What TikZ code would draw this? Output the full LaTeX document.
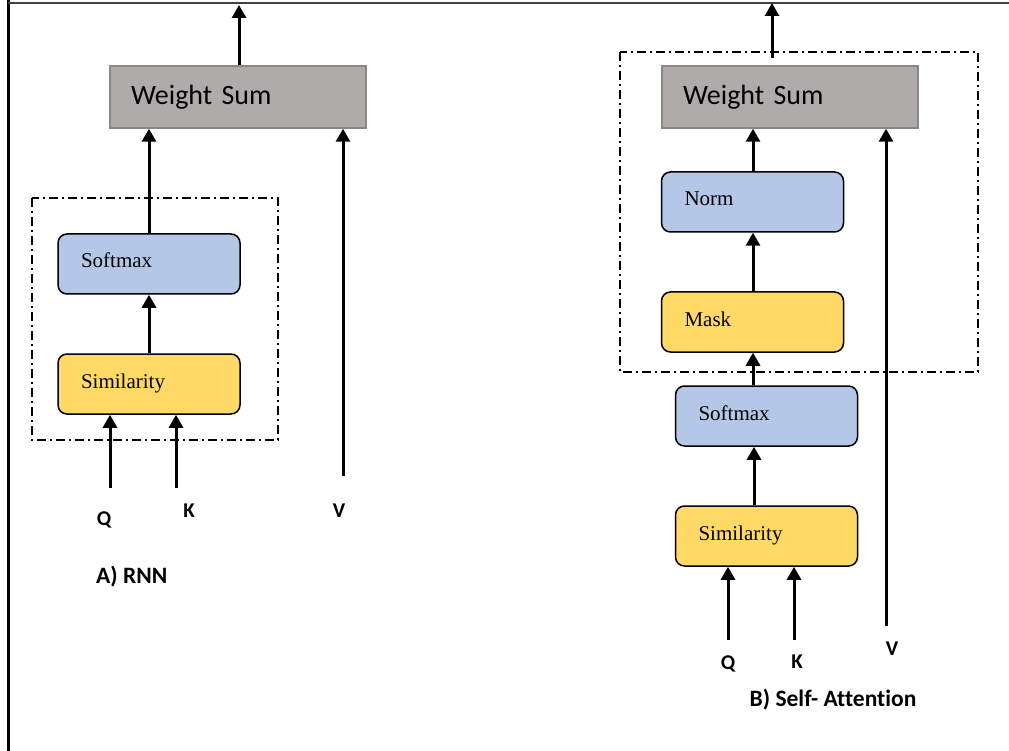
\documentclass[tikz,border=0pt]{standalone}
\usepackage{fontspec}
\setmainfont{Liberation Serif}
\newfontfamily\calib[Ligatures=NoCommon]{Carlito}
\usetikzlibrary{arrows.meta}
\definecolor{wsgray}{HTML}{AFABAB}
\definecolor{wsborder}{HTML}{8A8787}
\definecolor{boxblue}{HTML}{B4C7E7}
\definecolor{boxyellow}{HTML}{FFD966}
\tikzset{
  wsbox/.style={draw=wsborder, line width=1.5pt, fill=wsgray, minimum width=256pt, minimum height=62pt,
    text width=214pt, inner xsep=21pt, align=left, font=\calib\fontsize{28}{30}\selectfont},
  stepbox/.style={draw=black, line width=1.5pt, rounded corners=9pt, minimum width=182pt, minimum height=60pt,
    text width=136pt, inner xsep=23pt, align=left, text height=14pt, text depth=6pt,
    font=\fontsize{21}{23}\selectfont},
  bluebox/.style={stepbox, fill=boxblue},
  yellowbox/.style={stepbox, fill=boxyellow},
  conn/.style={line width=3pt, -{Triangle[length=13pt,width=14pt]}},
  groupbox/.style={draw=black, line width=1.5pt, dash pattern=on 9pt off 4pt on 2pt off 4pt},
  lbl/.style={font=\calib\bfseries\fontsize{21}{23}\selectfont, inner sep=0pt},
  caption/.style={font=\calib\bfseries\fontsize{23.5}{25}\selectfont, inner sep=0pt}
}
\begin{document}
\begin{tikzpicture}[x=1pt,y=-1pt]
\useasboundingbox (0,0) rectangle (1009,751);
% frame
\draw[line width=3pt] (8,0) -- (8,751);
\draw[line width=2pt, black!75] (8,3) -- (1009,3);

% ---------- A) RNN ----------
\draw[groupbox] (32,198) rectangle (278,440);
\node[wsbox] (wsA) at (238,97) {Weight Sum};
\node[bluebox] (smA) at (149,264) {Softmax};
\node[yellowbox] (simA) at (149,384) {Similarity};
\coordinate (outA) at (239,5);
\coordinate (qA) at (110,488);
\coordinate (kA) at (176,488);
\coordinate (vA) at (343,476);
\draw[conn] (wsA.north -| outA) -- (outA);
\draw[conn] (simA) -- (smA);
\draw[conn] (smA.north) -- (smA.north |- wsA.south);
\draw[conn] (qA) -- (qA |- simA.south);
\draw[conn] (kA) -- (kA |- simA.south);
\draw[conn] (vA) -- (vA |- wsA.south);
\node[lbl] (QA) at (104,520) {Q};
\node[lbl] (KA) at (189,511) {K};
\node[lbl] (VA) at (339,511) {V};
\node[caption, anchor=west] (capA) at (96,577) {A) RNN};

% ---------- B) Self-Attention ----------
\draw[groupbox] (620,52) rectangle (978,372);
\node[wsbox] (wsB) at (790,97) {Weight Sum};
\node[bluebox] (normB) at (752.5,202) {Norm};
\node[yellowbox] (maskB) at (752.5,322) {Mask};
\node[bluebox] (smB) at (766.5,416) {Softmax};
\node[yellowbox] (simB) at (766.5,536) {Similarity};
\coordinate (outB) at (772,3);
\coordinate (qB) at (728,640);
\coordinate (kB) at (794,640);
\coordinate (vB) at (886,626);
\draw[conn] (772,58) -- (outB);
\draw[conn] (normB.north -| 753,0) -- (753,0 |- wsB.south);
\draw[conn] (maskB.north -| 753,0) -- (753,0 |- normB.south);
\draw[conn] (smB.north -| 753,0) -- (753,0 |- maskB.south);
\draw[conn] (simB.north -| 754,0) -- (754,0 |- smB.south);
\draw[conn] (qB) -- (qB |- simB.south);
\draw[conn] (kB) -- (kB |- simB.south);
\draw[conn] (vB) -- (vB |- wsB.south);
\node[lbl] (QB) at (728,664) {Q};
\node[lbl] (KB) at (797,662) {K};
\node[lbl] (VB) at (892,649) {V};
\node[caption] (capB) at (833,700) {B) Self- Attention};
\end{tikzpicture}
\end{document}
